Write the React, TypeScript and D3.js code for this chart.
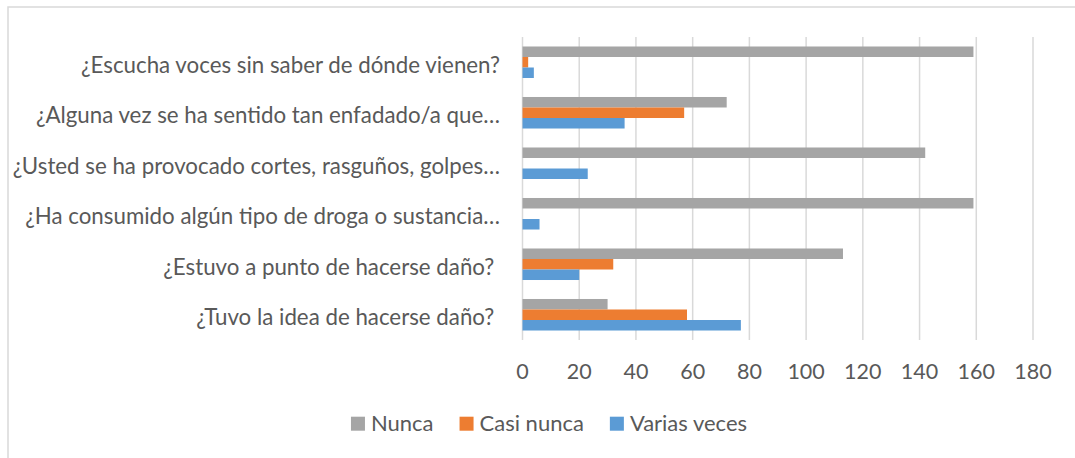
import { useEffect, useRef } from 'react'
import * as d3 from 'd3'

// categories, top to bottom as shown
const categories = [
  '¿Escucha voces sin saber de dónde vienen?',
  '¿Alguna vez se ha sentido tan enfadado/a que…',
  '¿Usted se ha provocado cortes, rasguños, golpes…',
  '¿Ha consumido algún tipo de droga o sustancia…',
  '¿Estuvo a punto de hacerse daño? ',
  '¿Tuvo la idea de hacerse daño? ',
]

const seriesNames = ['Nunca', 'Casi nunca', 'Varias veces']
const nunca = [159, 72, 142, 159, 113, 30]
const casiNunca = [2, 57, 0, 0, 32, 58]
const variasVeces = [4, 36, 23, 6, 20, 77]
const xTicks = [0, 20, 40, 60, 80, 100, 120, 140, 160, 180]

const COLORS = ['#A5A5A5', '#ED7D31', '#5B9BD5']
const TEXT = '#595959'
const GRID = '#D9D9D9'
const FONT = 'Lato, "Noto Sans", sans-serif'

const W = 1075
const H = 458

export default function App() {
  const ref = useRef<SVGSVGElement | null>(null)

  useEffect(() => {
    if (!ref.current) return
    const svg = d3.select(ref.current)
    svg.selectAll('*').remove()

    const values = [nunca, casiNunca, variasVeces]
    const rows = categories.map((c, i) => ({
      cat: c,
      vals: values.map((v, s) => ({ name: seriesNames[s], value: v[i], s })),
    }))

    const margin = { top: 37, right: 42, bottom: 118, left: 522.5 }
    const x = d3.scaleLinear().domain([0, 180]).range([margin.left, W - margin.right])
    const gap = 0.376
    const y = d3.scaleBand<string>()
      .domain(categories)
      .range([margin.top, H - margin.bottom])
      .paddingInner(gap)
      .paddingOuter(gap / 2)
    const ys = d3.scaleBand<string>().domain(seriesNames).range([0, y.bandwidth()])

    // frame
    svg.append('path')
      .attr('d', `M8,${H + 5} V7 H${W + 5}`)
      .attr('fill', 'none')
      .attr('stroke', GRID)
      .attr('stroke-width', 1.5)

    // grid
    svg.append('g')
      .selectAll('line')
      .data(xTicks)
      .enter()
      .append('line')
      .attr('x1', d => x(d))
      .attr('x2', d => x(d))
      .attr('y1', margin.top)
      .attr('y2', H - margin.bottom)
      .attr('stroke', GRID)
      .attr('stroke-width', 1.5)

    // bars
    const g = svg.append('g')
      .selectAll('g')
      .data(rows)
      .enter()
      .append('g')
      .attr('transform', d => `translate(0,${y(d.cat)})`)

    g.selectAll('rect')
      .data(d => d.vals.filter(v => v.value > 0))
      .enter()
      .append('rect')
      .attr('x', x(0))
      .attr('y', d => ys(d.name)!)
      .attr('width', d => x(d.value) - x(0))
      .attr('height', ys.bandwidth())
      .attr('fill', d => COLORS[d.s])

    // category labels
    svg.append('g')
      .selectAll('text')
      .data(categories)
      .enter()
      .append('text')
      .attr('x', 500)
      .attr('y', d => y(d)! + y.bandwidth() / 2)
      .attr('dy', '0.48em')
      .attr('text-anchor', 'end')
      .attr('fill', TEXT)
      .attr('font-family', FONT)
      .attr('font-size', 22.3)
      .style('white-space', 'pre')
      .text(d => d)

    // x tick labels
    svg.append('g')
      .selectAll('text')
      .data(xTicks)
      .enter()
      .append('text')
      .attr('x', d => x(d))
      .attr('y', H - margin.bottom + 39)
      .attr('text-anchor', 'middle')
      .attr('fill', TEXT)
      .attr('font-family', FONT)
      .attr('font-size', 21.5)
      .text(d => d)

    // legend, centered
    const leg = svg.append('g')
    const items = seriesNames.map((n, i) => {
      const item = leg.append('g')
      item.append('rect')
        .attr('x', 0)
        .attr('y', 416.7)
        .attr('width', 14)
        .attr('height', 14)
        .attr('fill', COLORS[i])
      const t = item.append('text')
        .attr('x', 20)
        .attr('y', 430.5)
        .attr('fill', TEXT)
        .attr('font-family', FONT)
        .attr('font-size', 22)
        .text(n)
      const w = 20 + (t.node() as SVGTextElement).getComputedTextLength()
      return { item, w }
    })
    const spacing = 26
    const total = d3.sum(items, d => d.w) + spacing * (items.length - 1)
    let cx = 549 - total / 2
    items.forEach(({ item, w }) => {
      item.attr('transform', `translate(${cx},0)`)
      cx += w + spacing
    })
  }, [])

  return (
    <svg
      ref={ref}
      width={W}
      height={H}
      style={{ position: 'absolute', left: 0, top: 0, background: '#fff' }}
    />
  )
}
